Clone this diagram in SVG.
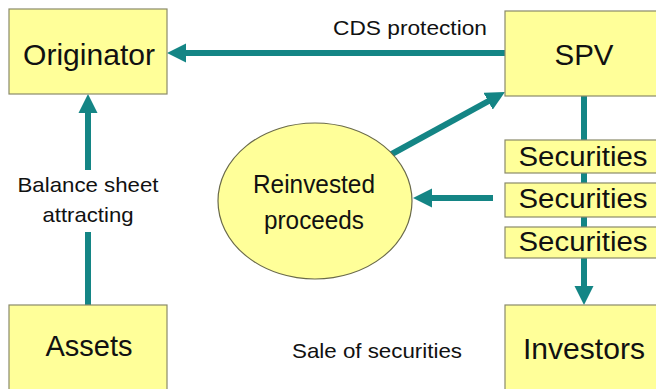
<svg xmlns="http://www.w3.org/2000/svg" width="656" height="389" viewBox="0 0 656 389">
<style>
.box{fill:#ffff99;stroke:#8a8a6a;stroke-width:1.2}
.t{font-family:"Liberation Sans",Arial,sans-serif;fill:#111;text-anchor:middle}
.big{font-size:30px}
.sec{font-size:27px}
.mid{font-size:26px}
.lbl{font-size:21px}
.conn{fill:none;stroke:#148585;stroke-width:6}
</style>
<defs>
<marker id="ah" viewBox="0 0 10 10" markerWidth="3.2" markerHeight="3.2" refX="1" refY="5" orient="auto">
<path d="M0,0 L10,5 L0,10 z" fill="#148585"/>
</marker>
</defs>
<rect width="656" height="389" fill="#ffffff"/>
<g id="connectors">
<path class="conn" d="M505,53 H184.3" marker-end="url(#ah)"/>
<path class="conn" d="M88,305 V232 M88,170 V111.3" marker-end="url(#ah)"/>
<path class="conn" d="M390,155 L489.8,100.3" marker-end="url(#ah)"/>
<path class="conn" d="M493,198 H430.3" marker-end="url(#ah)"/>
<path class="conn" d="M584,96 V287.7" marker-end="url(#ah)"/>
</g>
<g id="originator">
<rect class="box" x="9" y="9" width="158" height="85"/>
<text class="t big" x="89" y="65" textLength="132" lengthAdjust="spacingAndGlyphs">Originator</text>
</g>
<g id="spv">
<rect class="box" x="505" y="11" width="160" height="85"/>
<text class="t big" x="584" y="65" textLength="59" lengthAdjust="spacingAndGlyphs">SPV</text>
</g>
<g id="assets">
<rect class="box" x="9" y="305" width="158" height="95"/>
<text class="t big" x="89" y="356" textLength="87" lengthAdjust="spacingAndGlyphs">Assets</text>
</g>
<g id="investors">
<rect class="box" x="505" y="305" width="160" height="95"/>
<text class="t big" x="584" y="359" textLength="122" lengthAdjust="spacingAndGlyphs">Investors</text>
</g>
<g id="securities1">
<rect class="box" x="505" y="140" width="160" height="33"/>
<text class="t sec" x="583" y="166" textLength="129" lengthAdjust="spacingAndGlyphs">Securities</text>
</g>
<g id="securities2">
<rect class="box" x="505" y="183" width="160" height="34"/>
<text class="t sec" x="583" y="208" textLength="129" lengthAdjust="spacingAndGlyphs">Securities</text>
</g>
<g id="securities3">
<rect class="box" x="505" y="227" width="160" height="31"/>
<text class="t sec" x="583" y="251" textLength="129" lengthAdjust="spacingAndGlyphs">Securities</text>
</g>
<g id="reinvested">
<ellipse cx="315" cy="201" rx="97" ry="78" fill="#ffff99" stroke="#6a6a4a" stroke-width="1.2"/>
<text class="t mid" x="314" y="193" textLength="122" lengthAdjust="spacingAndGlyphs">Reinvested</text>
<text class="t mid" x="314" y="229" textLength="100" lengthAdjust="spacingAndGlyphs">proceeds</text>
</g>
<g id="labels">
<text class="t lbl" x="410" y="35" textLength="154" lengthAdjust="spacingAndGlyphs">CDS protection</text>
<text class="t lbl" x="88" y="192" textLength="141" lengthAdjust="spacingAndGlyphs">Balance sheet</text>
<text class="t lbl" x="88" y="222" textLength="91" lengthAdjust="spacingAndGlyphs">attracting</text>
<text class="t lbl" x="377" y="358" textLength="170" lengthAdjust="spacingAndGlyphs">Sale of securities</text>
</g>
</svg>
